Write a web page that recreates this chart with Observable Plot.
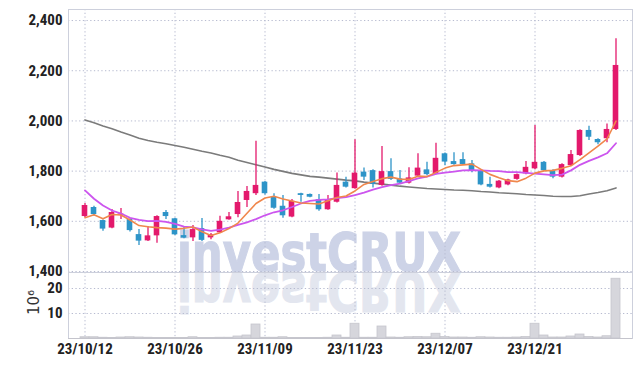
<!DOCTYPE html>
<html><head><meta charset="utf-8">
<script src="https://cdn.jsdelivr.net/npm/d3@7"></script>
<script src="https://cdn.jsdelivr.net/npm/@observablehq/plot@0.6"></script>
<style>
body{margin:0;background:#fff;}
#wrap{position:relative;width:642px;height:366px;overflow:hidden;}
#wm{position:absolute;left:0;top:0;z-index:0;}
#charts{position:relative;z-index:1;}
#charts svg{display:block;}
</style></head><body>
<div id="wrap">
<svg id="wm" width="642" height="366">
  <text x="177" y="271" font-family="'DejaVu Sans', Roboto, sans-serif" font-weight="bold" font-size="54" fill="#cdd3e7" stroke="#cdd3e7" stroke-width="1.2" textLength="284" lengthAdjust="spacingAndGlyphs">investCRUX</text>
  <g transform="translate(0,544) scale(1,-1)">
    <text x="177" y="271" font-family="'DejaVu Sans', Roboto, sans-serif" font-weight="bold" font-size="54" fill="#e3e6ef" stroke="#e3e6ef" stroke-width="1.2" textLength="284" lengthAdjust="spacingAndGlyphs">investCRUX</text>
  </g>
</svg>
<div id="charts"></div>
</div>
<script>
const dates = ["23/10/12","23/10/13","23/10/16","23/10/17","23/10/18","23/10/19","23/10/20","23/10/23","23/10/24","23/10/25",
"23/10/26","23/10/27","23/10/30","23/10/31","23/11/01","23/11/02","23/11/03","23/11/06","23/11/07","23/11/08",
"23/11/09","23/11/10","23/11/13","23/11/14","23/11/15","23/11/16","23/11/17","23/11/20","23/11/21","23/11/22",
"23/11/23","23/11/24","23/11/27","23/11/28","23/11/29","23/11/30","23/12/01","23/12/04","23/12/05","23/12/06",
"23/12/07","23/12/08","23/12/11","23/12/12","23/12/13","23/12/14","23/12/15","23/12/18","23/12/19","23/12/20",
"23/12/21","23/12/22","23/12/25","23/12/26","23/12/27","23/12/28","23/12/29","24/01/01","24/01/02","24/01/03"];
const open  = [1619,1655,1603,1573,1625,1607,1547,1522,1542,1635,1610,1543,1534,1571,1534,1554,1606,1627,1683,1710,
               1756,1696,1660,1617,1710,1707,1686,1646,1676,1756,1730,1796,1802,1743,1798,1769,1752,1780,1805,1789,
               1869,1838,1846,1829,1802,1747,1733,1745,1767,1789,1809,1835,1802,1776,1822,1862,1962,1926,1929,1966];
const high  = [1671,1660,1605,1647,1651,1610,1567,1579,1622,1643,1612,1577,1583,1611,1551,1620,1635,1719,1739,1919,
               1759,1710,1703,1687,1712,1709,1707,1703,1792,1776,1925,1812,1805,1898,1849,1802,1813,1869,1835,1911,
               1872,1873,1873,1842,1805,1776,1763,1768,1789,1838,1982,1838,1805,1829,1882,1965,1979,1929,1988,2327];
const low   = [1615,1620,1560,1570,1607,1557,1504,1520,1513,1607,1543,1530,1520,1520,1527,1552,1604,1614,1655,1703,
               1705,1648,1612,1614,1676,1694,1640,1644,1673,1733,1728,1763,1733,1740,1763,1748,1749,1777,1782,1786,
               1822,1823,1823,1793,1742,1733,1730,1742,1764,1786,1805,1799,1770,1773,1818,1858,1922,1905,1913,1962];
const close = [1663,1627,1569,1635,1629,1563,1521,1542,1619,1619,1546,1533,1567,1524,1546,1600,1618,1675,1719,1743,
               1710,1652,1622,1680,1703,1696,1646,1686,1743,1736,1792,1776,1747,1798,1767,1752,1773,1812,1786,1851,
               1836,1826,1826,1802,1745,1736,1760,1765,1786,1815,1835,1802,1776,1826,1866,1962,1935,1913,1966,2221];
const maShort = [1614,1626,1610,1627,1625,1605,1583,1578,1575,1573,1569,1572,1577,1558,1543,1554,1571,1593,1632,1671,
                 1693,1700,1689,1681,1673,1671,1669,1682,1695,1701,1721,1747,1759,1770,1776,1768,1767,1780,1778,1795,
                 1812,1822,1825,1828,1807,1787,1774,1762,1758,1772,1792,1801,1803,1811,1821,1846,1873,1900,1928,1999];
const maMid   = [1723,1690,1663,1643,1631,1614,1606,1601,1602,1598,1590,1579,1576,1568,1562,1567,1575,1586,1596,1609,
                 1624,1636,1644,1657,1671,1681,1685,1687,1692,1696,1704,1714,1726,1736,1744,1750,1760,1771,1778,1789,
                 1794,1798,1803,1804,1803,1801,1800,1796,1796,1793,1790,1787,1784,1786,1803,1825,1841,1855,1871,1911];
const maLong  = [2004,1993,1980,1969,1956,1944,1931,1922,1915,1909,1902,1895,1887,1879,1872,1863,1855,1843,1834,1825,
                 1816,1807,1799,1791,1785,1779,1776,1772,1768,1764,1761,1756,1752,1748,1744,1740,1737,1734,1731,1729,
                 1727,1725,1724,1722,1719,1717,1714,1712,1710,1707,1705,1703,1700,1699,1699,1702,1709,1715,1722,1733];
const volume  = [0.5,0.5,0.3,0.2,0.4,0.5,0.4,0.3,0.2,0.2,0.2,0.2,0.5,0.2,0.2,0.3,0.3,0.8,1.2,5.6,
                 0.3,0.3,0.5,0.2,0.2,0.2,0.2,0.3,1.2,0.3,5.9,0.3,0.3,4.8,0.4,0.3,0.5,0.6,0.5,1.9,
                 0.6,0.4,0.4,0.3,0.5,0.4,0.3,0.3,0.4,0.6,5.9,1.2,0.4,0.4,0.8,1.6,0.6,0.4,0.9,23.9];
const priceTicks = [1400,1600,1800,2000,2200,2400];
const volumeTicks = [10,20];
const dateTicks = ["23/10/12","23/10/26","23/11/09","23/11/23","23/12/07","23/12/21"];

const rows = dates.map((d,i)=>({date:d, open:open[i], high:high[i], low:low[i], close:close[i],
  s:maShort[i], m:maMid[i], l:maLong[i], vol:volume[i]}));
const ups = rows.filter(r=>r.close>=r.open), downs = rows.filter(r=>r.close<r.open);
const UP="#e3196c", DOWN="#2d94c8";
const FONT="'Liberation Sans Narrow','Roboto Condensed','Roboto',sans-serif";
const grid = {stroke:"#b7bbd0", strokeOpacity:1, strokeDasharray:"1.3,2.4", strokeWidth:1};
const baseStyle = {background:"transparent", fontFamily:FONT, fontSize:"15px", fontWeight:"bold", color:"#222", overflow:"visible"};

const price = Plot.plot({
  width:642, height:272, marginTop:9, marginBottom:0, marginLeft:68, marginRight:10,
  style:baseStyle,
  x:{type:"band", domain:dates, padding:0, axis:null},
  y:{domain:[1396,2444], ticks:priceTicks, tickFormat:d3.format(","), tickSize:0, tickPadding:6, label:null},
  marks:[
    Plot.gridY(priceTicks, grid),
    Plot.gridX(dateTicks, grid),
    Plot.frame({stroke:"#cdd0dc"}),
    Plot.lineY(rows,{x:"date", y:"l", stroke:"#7b7b7b", strokeWidth:1.6}),
    Plot.ruleX(ups,{x:"date", y1:"low", y2:"high", stroke:UP, strokeWidth:1.3}),
    Plot.ruleX(downs,{x:"date", y1:"low", y2:"high", stroke:DOWN, strokeWidth:1.3}),
    Plot.barY(ups,{x:"date", y1:"open", y2:"close", fill:UP, insetLeft:1.7, insetRight:1.7}),
    Plot.barY(downs,{x:"date", y1:"open", y2:"close", fill:DOWN, insetLeft:1.7, insetRight:1.7}),
    Plot.lineY(rows,{x:"date", y:"m", stroke:"#cc55ee", strokeWidth:1.8}),
    Plot.lineY(rows,{x:"date", y:"s", stroke:"#f0874c", strokeWidth:1.6})
  ]
});

const vol = Plot.plot({
  width:642, height:94, marginTop:0, marginBottom:28, marginLeft:68, marginRight:10,
  style:baseStyle,
  x:{type:"band", domain:dates, padding:0, ticks:dateTicks, tickSize:0, tickPadding:5, label:null},
  y:{domain:[0,26.4], ticks:volumeTicks, tickSize:0, tickPadding:6, label:null},
  marks:[
    Plot.gridY(volumeTicks, grid),
    Plot.gridX(dateTicks, grid),
    Plot.barY(rows,{x:"date", y:"vol", fill:"#d6d6dc", stroke:"#c6c6cd", strokeWidth:0.8}),
    Plot.frame({stroke:"#cdd0dc"}),
    Plot.ruleY([0],{stroke:"#c4c4cc"}),
    Plot.text(["10⁶"],{frameAnchor:"left", dx:-34, dy:-3, rotate:-90, textAnchor:"middle", fontWeight:"normal", fontSize:15, fill:"#333", fontFamily:"'DejaVu Sans',sans-serif"})
  ]
});

const c = document.getElementById("charts");
c.appendChild(price);
c.appendChild(vol);
</script>
</body></html>
